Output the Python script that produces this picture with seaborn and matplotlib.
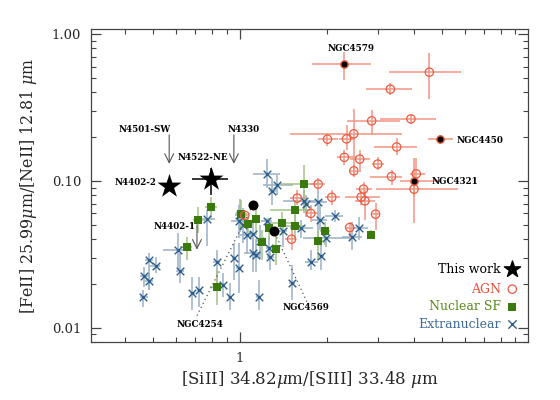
import numpy as np
import pandas as pd
import matplotlib
matplotlib.use("Agg")
import matplotlib.pyplot as plt
import seaborn as sns
from matplotlib.ticker import FixedLocator, FixedFormatter, LogLocator, NullFormatter

# ---------------- data ----------------
# AGN (open red circles): value, lower/upper bounds
agn_x    = [4.53, 3.32, 2.86, 3.91, 2.48, 2.34, 2.01, 3.49, 2.30, 2.60, 3.00, 2.48, 3.35, 4.08, 4.01, 2.95, 1.866, 2.68, 2.63, 2.71, 2.08, 1.58, 1.76, 2.40, 1.51, 1.04]
agn_y    = [0.549, 0.421, 0.256, 0.264, 0.209, 0.193, 0.192, 0.170, 0.1445, 0.1405, 0.130, 0.117, 0.107, 0.1116, 0.0878, 0.0593, 0.095, 0.0878, 0.0775, 0.0731, 0.0772, 0.0763, 0.060, 0.0481, 0.0401, 0.0582]
agn_xlo  = [3.28, 2.73, 2.35, 3.05, 1.49, 2.20, 1.86, 2.91, 2.17, 2.40, 2.86, 2.40, 2.82, 3.88, 2.95, 2.86, 1.746, 2.52, 2.31, 2.50, 1.968, 1.49, 1.68, 2.31, 1.43, 1.02]
agn_xhi  = [5.82, 3.94, 3.58, 4.77, 3.64, 2.50, 2.18, 4.10, 2.52, 2.82, 3.15, 2.56, 3.64, 4.37, 5.68, 3.05, 1.968, 2.86, 3.05, 2.93, 2.22, 1.68, 1.86, 2.50, 1.57, 1.06]
agn_ylo  = [0.361, 0.385, 0.206, 0.244, 0.110, 0.163, 0.173, 0.150, 0.128, 0.115, 0.119, 0.106, 0.094, 0.0985, 0.0518, 0.0464, 0.0868, 0.0778, 0.0687, 0.0543, 0.0687, 0.0687, 0.0526, 0.0397, 0.034, 0.055]
agn_yhi  = [0.743, 0.464, 0.304, 0.281, 0.309, 0.240, 0.212, 0.196, 0.163, 0.163, 0.146, 0.128, 0.119, 0.143, 0.097, 0.0708, 0.105, 0.0985, 0.0868, 0.0868, 0.0868, 0.0868, 0.0687, 0.0526, 0.0502, 0.062]

# highlighted AGN (black filled with red rim)
hagn_names = ["NGC4579", "NGC4450", "NGC4321"]
hagn_x   = [2.30, 4.95, 4.01]
hagn_y   = [0.625, 0.192, 0.1005]
hagn_xlo = [1.77, 4.47, 3.58]
hagn_xhi = [2.84, 5.46, 4.92]
hagn_ylo = [0.486, 0.179, 0.0778]
hagn_yhi = [0.758, 0.206, 0.143]

# highlighted star-forming nuclei (black filled)
hsf_names = ["NGC4254", "NGC4569"]
hsf_x = [1.11, 1.31]
hsf_y = [0.0687, 0.0455]

# Nuclear SF (green squares)
nsf_x   = [0.794, 0.717, 0.657, 0.831, 1.008, 1.068, 1.136, 1.196, 1.263, 1.332, 1.403, 1.553, 1.553, 1.661, 1.87, 1.976, 2.84]
nsf_y   = [0.0662, 0.0543, 0.0352, 0.0188, 0.0592, 0.0507, 0.0549, 0.0382, 0.0474, 0.0343, 0.0515, 0.0638, 0.0489, 0.095, 0.0391, 0.0455, 0.0429]
nsf_xlo = [0.757, 0.688, 0.620, 0.787, 0.96, 1.03, 1.10, 1.16, 1.22, 1.29, 1.27, 1.27, 1.43, 1.375, 1.80, 1.90, 2.78]
nsf_xhi = [0.833, 0.757, 0.682, 0.873, 1.057, 1.11, 1.17, 1.23, 1.30, 1.37, 1.55, 1.746, 1.68, 1.89, 1.94, 2.05, 2.90]
nsf_ylo = [0.0543, 0.0443, 0.029, 0.0143, 0.0464, 0.0429, 0.0429, 0.029, 0.0397, 0.0268, 0.0429, 0.0526, 0.0397, 0.0635, 0.029, 0.0367, 0.040]
nsf_yhi = [0.0778, 0.0666, 0.0416, 0.0248, 0.0743, 0.0596, 0.0687, 0.0464, 0.056, 0.0429, 0.0615, 0.0743, 0.0587, 0.1285, 0.0464, 0.0526, 0.046]

# Extranuclear (blue crosses)
ext_x   = [1.245, 1.346, 1.296, 0.772, 0.609, 0.485, 0.512, 0.464, 0.486, 0.463, 0.618, 0.685, 0.724, 0.831, 0.875, 0.926, 0.956, 0.994,
           1.0, 0.992, 1.022, 1.055, 1.106, 1.173, 1.109, 1.14, 1.16, 1.237, 1.263, 1.275, 1.409, 1.665, 1.696, 1.862, 1.899, 2.13,
           1.626, 1.992, 2.435, 2.58, 1.906, 1.765, 1.517]
ext_y   = [0.111, 0.094, 0.0855, 0.0549, 0.0338, 0.0288, 0.0262, 0.0226, 0.0207, 0.0161, 0.0244, 0.0172, 0.0182, 0.0279, 0.0194, 0.0163, 0.0299, 0.0255,
           0.0587, 0.0534, 0.0502, 0.0429, 0.0436, 0.0387, 0.0322, 0.0314, 0.0163, 0.0529, 0.0349, 0.0304, 0.0457, 0.0728, 0.0694, 0.0716, 0.0543, 0.0578,
           0.0477, 0.041, 0.0413, 0.0477, 0.0309, 0.0279, 0.0202]
ext_xlo = [1.11, 1.20, 1.26, 0.727, 0.542, 0.47, 0.49, 0.45, 0.47, 0.45, 0.60, 0.67, 0.71, 0.81, 0.86, 0.91, 0.94, 0.97,
           0.96, 0.93, 1.00, 1.00, 1.08, 1.14, 1.03, 1.11, 1.14, 1.18, 1.23, 1.24, 1.37, 1.41, 1.66, 1.75, 1.77, 1.97,
           1.49, 1.65, 2.26, 2.44, 1.86, 1.68, 1.48]
ext_xhi = [1.375, 1.53, 1.33, 0.819, 0.682, 0.50, 0.53, 0.48, 0.50, 0.48, 0.64, 0.70, 0.74, 0.85, 0.89, 0.94, 0.97, 1.02,
           1.06, 1.05, 1.05, 1.11, 1.13, 1.21, 1.18, 1.17, 1.18, 1.29, 1.30, 1.31, 1.45, 1.94, 1.73, 2.00, 2.00, 2.27,
           1.79, 2.50, 2.64, 2.77, 1.95, 1.86, 1.55]
ext_ylo = [0.090, 0.080, 0.069, 0.036, 0.0249, 0.0181, 0.0237, 0.019, 0.0181, 0.0139, 0.0203, 0.0132, 0.0139, 0.0189, 0.0162, 0.0132, 0.0212, 0.0173,
           0.045, 0.041, 0.038, 0.032, 0.034, 0.030, 0.024, 0.024, 0.0132, 0.045, 0.029, 0.0249, 0.0355, 0.060, 0.057, 0.0397, 0.0464, 0.0526,
           0.041, 0.0355, 0.034, 0.0397, 0.0249, 0.0249, 0.0155]
ext_yhi = [0.14, 0.11, 0.104, 0.0635, 0.044, 0.0325, 0.0305, 0.026, 0.0237, 0.0181, 0.0325, 0.022, 0.022, 0.034, 0.0237, 0.0203, 0.038, 0.038,
           0.075, 0.068, 0.065, 0.055, 0.055, 0.050, 0.040, 0.040, 0.0212, 0.056, 0.0416, 0.034, 0.0543, 0.0868, 0.080, 0.0868, 0.0687, 0.0635,
           0.0543, 0.0464, 0.0526, 0.0566, 0.038, 0.034, 0.0268]

# This work (stars)
tw_names = ["N4402-2", "N4522-NE"]
tw_x   = [0.569, 0.794]
tw_y   = [0.0925, 0.1027]
tw_xlo = [0.569, 0.681]
tw_xhi = [0.569, 0.906]
tw_ylo = [0.0925, 0.0803]
tw_yhi = [0.0925, 0.1226]

# This work upper limits (arrows)
ul_names = ["N4501-SW", "N4330", "N4402-1"]
ul_x     = [0.569, 0.953, 0.710]
ul_ytop  = [0.2055, 0.2055, 0.0502]
ul_ybot  = [0.1305, 0.1305, 0.034]

# ---------------- style ----------------
sns.set_theme(style="ticks")
plt.rcParams["font.family"] = ["DejaVu Serif"]
plt.rcParams["mathtext.fontset"] = "dejavuserif"
plt.rcParams["axes.edgecolor"] = "#444444"
plt.rcParams["axes.linewidth"] = 0.9

red = "#ee5a40"
red_e = "#f29582"
green = "#3a7a0c"
green_e = "#a2c484"
blue = "#2f5f8c"
blue_e = "#98b0c8"

fig = plt.figure(figsize=(5.6, 4.0), dpi=100)
ax = fig.add_axes([0.1625, 0.145, 0.7804, 0.7825])
ax.set_xscale("log")
ax.set_yscale("log")


def bars(x, y, xlo, xhi, ylo, yhi, color, z):
    x = np.asarray(x); y = np.asarray(y)
    xerr = [x - np.asarray(xlo), np.asarray(xhi) - x]
    yerr = [y - np.asarray(ylo), np.asarray(yhi) - y]
    ax.errorbar(x, y, xerr=xerr, yerr=yerr, fmt="none", ecolor=color, elinewidth=1.1, capsize=0, zorder=z)

# error bars
bars(ext_x, ext_y, ext_xlo, ext_xhi, ext_ylo, ext_yhi, blue_e, 1)
bars(nsf_x, nsf_y, nsf_xlo, nsf_xhi, nsf_ylo, nsf_yhi, green_e, 1.5)
bars(agn_x, agn_y, agn_xlo, agn_xhi, agn_ylo, agn_yhi, red_e, 2)
bars(hagn_x, hagn_y, hagn_xlo, hagn_xhi, hagn_ylo, hagn_yhi, red_e, 2)
bars(tw_x, tw_y, tw_xlo, tw_xhi, tw_ylo, tw_yhi, "black", 4)

ext_df = pd.DataFrame({"x": ext_x, "y": ext_y})
nsf_df = pd.DataFrame({"x": nsf_x, "y": nsf_y})
agn_df = pd.DataFrame({"x": agn_x, "y": agn_y})
hagn_df = pd.DataFrame({"x": hagn_x, "y": hagn_y})
hsf_df = pd.DataFrame({"x": hsf_x, "y": hsf_y})
tw_df = pd.DataFrame({"x": tw_x, "y": tw_y})

sns.scatterplot(data=ext_df, x="x", y="y", marker="x", s=30, color=blue, linewidth=1.0, ax=ax, zorder=3)
sns.scatterplot(data=ext_df, x="x", y="y", marker="o", s=5, color=blue, linewidth=0, ax=ax, zorder=3)
sns.scatterplot(data=nsf_df, x="x", y="y", marker="s", s=40, color=green, edgecolor=green, linewidth=0, ax=ax, zorder=3.5)
sns.scatterplot(data=agn_df, x="x", y="y", marker="o", s=36, facecolor="none", edgecolor=red, linewidth=0.9, ax=ax, zorder=3.6)
sns.scatterplot(data=hagn_df, x="x", y="y", marker="o", s=28, color="black", edgecolor=red, linewidth=1.0, ax=ax, zorder=3.7)
sns.scatterplot(data=hsf_df, x="x", y="y", marker="o", s=52, color="black", edgecolor="black", linewidth=0, ax=ax, zorder=3.7)
sns.scatterplot(data=tw_df, x="x", y="y", marker="*", s=330, color="black", edgecolor="black", linewidth=0, ax=ax, zorder=5)

# upper-limit arrows
for xx, yt, yb in zip(ul_x, ul_ytop, ul_ybot):
    ax.annotate("", xy=(xx, yb), xytext=(xx, yt),
                arrowprops=dict(arrowstyle="->", color="#555555", lw=0.8, mutation_scale=16, shrinkA=0, shrinkB=0))

lab_kw = dict(fontsize=6.3, color="black", fontweight="bold")
ax.text(0.469, 0.222, ul_names[0], ha="center", va="center", **lab_kw)
ax.text(1.032, 0.222, ul_names[1], ha="center", va="center", **lab_kw)
ax.text(0.704, 0.0489, ul_names[2], ha="right", va="center", **lab_kw)
ax.text(0.516, 0.098, tw_names[0], ha="right", va="center", **lab_kw)
ax.text(0.744, 0.1434, tw_names[1], ha="center", va="center", **lab_kw)
ax.text(2.42, 0.791, hagn_names[0], ha="center", va="center", **lab_kw)
ax.text(5.64, 0.188, hagn_names[1], ha="left", va="center", **lab_kw)
ax.text(4.62, 0.099, hagn_names[2], ha="left", va="center", **lab_kw)
ax.text(0.727, 0.0105, hsf_names[0], ha="center", va="center", **lab_kw)
ax.text(1.69, 0.01368, hsf_names[1], ha="center", va="center", **lab_kw)

# dotted connectors
ax.plot([0.71, hsf_x[0]], [0.0121, hsf_y[0]], ls=(0, (1, 2.5)), color="#555555", lw=0.9, zorder=2.5)
ax.plot([1.706, hsf_x[1]], [0.01503, hsf_y[1]], ls=(0, (1, 2.5)), color="#555555", lw=0.9, zorder=2.5)

# legend (manual)
lx_m, lx_t = 0.964, 0.9375
ax.scatter([lx_m], [0.233], transform=ax.transAxes, marker="*", s=150, color="black", zorder=6, clip_on=False)
ax.scatter([lx_m], [0.169], transform=ax.transAxes, marker="o", s=36, facecolor="none", edgecolor=red, linewidth=0.9, zorder=6)
ax.scatter([lx_m], [0.113], transform=ax.transAxes, marker="s", s=40, color=green, linewidth=0, zorder=6)
ax.scatter([lx_m], [0.0566], transform=ax.transAxes, marker="x", s=36, color=blue, linewidth=1.0, zorder=6)
leg_kw = dict(transform=ax.transAxes, ha="right", va="center", fontsize=9)
ax.text(lx_t, 0.233, "This work", color="black", **leg_kw)
ax.text(lx_t, 0.169, "AGN", color="#e8503a", **leg_kw)
ax.text(lx_t, 0.113, "Nuclear SF", color="#5a8c1a", **leg_kw)
ax.text(lx_t, 0.0566, "Extranuclear", color="#3e6a9a", **leg_kw)

# axes
ax.set_xlim(0.305, 9.95)
ax.set_ylim(0.008, 1.08)
ax.xaxis.set_major_locator(FixedLocator([1, 10]))
ax.xaxis.set_major_formatter(FixedFormatter(["1", "10"]))
ax.yaxis.set_major_locator(FixedLocator([0.01, 0.1, 1.0]))
ax.yaxis.set_major_formatter(FixedFormatter(["0.01", "0.10", "1.00"]))
ax.xaxis.set_minor_locator(LogLocator(base=10, subs=np.arange(2, 10)))
ax.yaxis.set_minor_locator(LogLocator(base=10, subs=np.arange(2, 10)))
ax.xaxis.set_minor_formatter(NullFormatter())
ax.yaxis.set_minor_formatter(NullFormatter())
ax.tick_params(which="both", direction="in", top=True, right=True, color="#444444", labelsize=9.5, pad=7)
ax.tick_params(which="major", length=7, width=0.9)
ax.tick_params(which="minor", length=3.5, width=0.8)

ax.set_xlabel(r"[SiII] 34.82$\mu$m/[SIII] 33.48 $\mu$m", fontsize=12, labelpad=3)
ax.set_ylabel(r"[FeII] 25.99$\mu$m/[NeII] 12.81 $\mu$m", fontsize=11.4, labelpad=9)

fig.savefig("out.png", dpi=100)
